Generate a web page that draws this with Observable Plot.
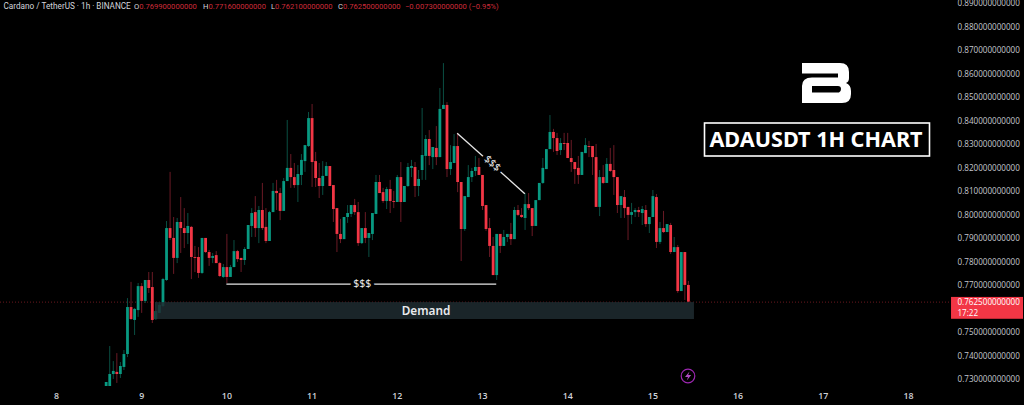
<!DOCTYPE html>
<html>
<head>
<meta charset="utf-8">
<script src="https://cdn.jsdelivr.net/npm/d3@7"></script>
<script src="https://cdn.jsdelivr.net/npm/@observablehq/plot@0.6"></script>
<style>
  html, body { margin: 0; background: #000; overflow: hidden; }
  #wrap { position: relative; width: 1024px; height: 405px; }
  #legend { position: absolute; top: 0; left: 0; width: 1024px; height: 14px; font: 7.6px Roboto, sans-serif; color: #d4d6dc; }
  #legend span { position: absolute; top: 1px; line-height: 11px; white-space: nowrap; }
  #legend b { font-weight: 400; color: #cf2b39; }
</style>
</head>
<body>
<div id="wrap">
  <div id="grafico"></div>
  <div id="legend">
    <span style="left:3.5px;font-size:8.2px">Cardano / TetherUS · 1h · BINANCE</span>
    <span style="left:134px">O<b>0.769900000000</b></span>
    <span style="left:203px">H<b>0.771600000000</b></span>
    <span style="left:271px">L<b>0.762100000000</b></span>
    <span style="left:338px">C<b>0.762500000000</b></span>
    <span style="left:405px"><b>−0.007300000000 (−0.95%)</b></span>
  </div>
</div>
<script>
// velas de 1h, la primera abre el dia 8 a las 14:00
const opens = [.7266,.7266,.7317,.7326,.7317,.7347,.7402,.7602,.7547,.7589,.7691,.7628,.7717,.7687,.7551,.7577,.7606,.7717,.7938,.7896,.7811,.7964,.7938,.7917,.7943,.7815,.7815,.7747,.7896,.7836,.7811,.7823,.7789,.7730,.7772,.7730,.7772,.7840,.7811,.7802,.7849,.7947,.8006,.7938,.8015,.7943,.7883,.8006,.8096,.8087,.8011,.8138,.8194,.8155,.8121,.8164,.8223,.8287,.8406,.8223,.8151,.8117,.8160,.8202,.8121,.8023,.7913,.7891,.7985,.7998,.8036,.8006,.7874,.7938,.7896,.7913,.7998,.8134,.8091,.8053,.8104,.8053,.8049,.8155,.8049,.8117,.8194,.8198,.8117,.8185,.8245,.8317,.8240,.8279,.8240,.8445,.8462,.8189,.8215,.8287,.8134,.7934,.8070,.8155,.8181,.8198,.8164,.8036,.7938,.7862,.7738,.7913,.7862,.7900,.7913,.7891,.8015,.7994,.7981,.8040,.8023,.7947,.8057,.8130,.8189,.8274,.8347,.8321,.8270,.8300,.8300,.8236,.8219,.8194,.8164,.8257,.8287,.8287,.8240,.8028,.8155,.8130,.8211,.8185,.8155,.8036,.8070,.8028,.7994,.8006,.8015,.8002,.8015,.7955,.7985,.8070,.7879,.7938,.7921,.7951,.7836,.7857,.7670,.7836,.7696]
const highs = [.7283,.7436,.7372,.7406,.7368,.7419,.7640,.7709,.7598,.7704,.7704,.7717,.7751,.7751,.7623,.7623,.7726,.7968,.8177,.7985,.7981,.8070,.8023,.8002,.7947,.7862,.7857,.7896,.7896,.7845,.7832,.7840,.7794,.7785,.7913,.7781,.7887,.7845,.7811,.7857,.7951,.8023,.8074,.8032,.8130,.8023,.8011,.8130,.8143,.8109,.8151,.8398,.8253,.8215,.8206,.8253,.8291,.8432,.8466,.8262,.8215,.8223,.8219,.8202,.8121,.8023,.7977,.7985,.8036,.8036,.8062,.8049,.7938,.8006,.7917,.8002,.8164,.8164,.8109,.8113,.8143,.8096,.8164,.8219,.8117,.8215,.8228,.8219,.8185,.8449,.8334,.8355,.8283,.8372,.8534,.8640,.8474,.8291,.8338,.8343,.8134,.8074,.8206,.8194,.8245,.8236,.8164,.8036,.7981,.7900,.7913,.7913,.7930,.7913,.7960,.8028,.8036,.8023,.8087,.8087,.8023,.8057,.8130,.8236,.8274,.8419,.8360,.8343,.8321,.8343,.8343,.8313,.8219,.8245,.8262,.8321,.8309,.8287,.8296,.8185,.8206,.8236,.8279,.8291,.8155,.8074,.8100,.8028,.8045,.8023,.8028,.8032,.8036,.7985,.8100,.8083,.7964,.8011,.7955,.7960,.7900,.7866,.7836,.7836,.7713]
const lows = [.7266,.7266,.7296,.7279,.7300,.7334,.7389,.7547,.7483,.7560,.7577,.7619,.7662,.7534,.7547,.7577,.7602,.7713,.7887,.7743,.7789,.7832,.7853,.7870,.7721,.7751,.7726,.7743,.7832,.7777,.7789,.7789,.7730,.7726,.7704,.7730,.7772,.7794,.7751,.7781,.7849,.7900,.7900,.7874,.7930,.7874,.7883,.8006,.8015,.7972,.8011,.8138,.8109,.8109,.8049,.8121,.8177,.8283,.8113,.8113,.8066,.8079,.8160,.8117,.7964,.7836,.7874,.7891,.7960,.7985,.7994,.7862,.7870,.7874,.7815,.7887,.7998,.8087,.8045,.8019,.8002,.8023,.8049,.7964,.8049,.8113,.8155,.8070,.8074,.8143,.8143,.8206,.8189,.8206,.8240,.8445,.8155,.8164,.8215,.8091,.7798,.7926,.8070,.8134,.8160,.8164,.8015,.7926,.7815,.7738,.7717,.7832,.7862,.7879,.7866,.7891,.7989,.7981,.7930,.8015,.7904,.7947,.8057,.8126,.8189,.8274,.8262,.8249,.8249,.8270,.8236,.8177,.8126,.8126,.8164,.8257,.8240,.8164,.8028,.7989,.8126,.8130,.8177,.8079,.8002,.7981,.7981,.7887,.7955,.7985,.7985,.7951,.7943,.7917,.7985,.7853,.7870,.7917,.7921,.7828,.7836,.7662,.7670,.7632,.7621]
const closes = [.7283,.7317,.7330,.7317,.7351,.7402,.7602,.7551,.7594,.7691,.7628,.7717,.7683,.7547,.7585,.7611,.7721,.7938,.7896,.7811,.7964,.7938,.7917,.7947,.7815,.7811,.7747,.7896,.7836,.7811,.7819,.7789,.7734,.7772,.7730,.7772,.7840,.7806,.7802,.7849,.7951,.8002,.7938,.8015,.7938,.7883,.8006,.8096,.8087,.8011,.8138,.8194,.8155,.8121,.8168,.8228,.8291,.8406,.8219,.8151,.8117,.8160,.8202,.8117,.8019,.7913,.7891,.7985,.8002,.8036,.8006,.7874,.7938,.7896,.7917,.8002,.8134,.8087,.8053,.8104,.8053,.8049,.8155,.8049,.8117,.8198,.8202,.8117,.8147,.8249,.8317,.8245,.8283,.8240,.8445,.8462,.8189,.8219,.8287,.8134,.7934,.8074,.8155,.8181,.8198,.8164,.8032,.7934,.7862,.7738,.7913,.7862,.7900,.7913,.7891,.8015,.7994,.7985,.8040,.8023,.7947,.8057,.8130,.8194,.8274,.8347,.8321,.8266,.8300,.8296,.8236,.8219,.8189,.8164,.8262,.8291,.8283,.8240,.8028,.8155,.8130,.8211,.8181,.8155,.8036,.8074,.8023,.7994,.8006,.8015,.8006,.8019,.7955,.7985,.8074,.7879,.7938,.7921,.7955,.7836,.7857,.7670,.7836,.7696,.7625]

const priceTicks = [.89,.88,.87,.86,.85,.84,.83,.82,.81,.8,.79,.78,.77,.75,.74,.73]
const dayTicks = [8,9,10,11,12,13,14,15,16,17,18]
const lastPrice = .7625
const demandZone = [{ x1: 9.162, x2: 15.488, y1: .7623, y2: .7551 }]
const flatLevel = [{ x1: 10, x2: 13.167, y: .7702 }]
const slopeLevel = [{ x1: 12.703, y1: .8344, x2: 13.497, y2: .8086 }]
const priceBox = [{ x1: 18.505, x2: 19.35, y1: .7552, y2: .7645 }]

const rows = opens.map((o, i) => ({
  day: 8 + (14 + i) / 24,
  open: o,
  high: highs[i],
  low: lows[i],
  close: closes[i],
}))
const up = d => d.close >= d.open

let chart = Plot.plot({
  width: 1024,
  height: 405,
  marginTop: 0,
  marginLeft: 0,
  marginRight: 74,
  marginBottom: 18,
  style: { background: '#000', color: '#c4c7ce', fontFamily: '"Open Sans", sans-serif', fontSize: '8.1px' },
  x: { domain: [7.343, 18.493], axis: null },
  y: { domain: [.72617, .89085], axis: null },
  marks: [
    Plot.ruleY([lastPrice], { stroke: '#f23645', strokeOpacity: 0.55, strokeDasharray: '1,2', strokeWidth: 0.8 }),
    // mechas
    Plot.ruleX(rows, { x: 'day', y1: 'low', y2: 'high', strokeWidth: 1, stroke: d => (up(d) ? '#0a4f43' : '#6a1a25') }),
    // cuerpos
    Plot.ruleX(rows, { x: 'day', y1: 'open', y2: 'close', strokeWidth: 2.8, stroke: d => (up(d) ? '#089981' : '#f23645') }),
    Plot.rect(demandZone, { x1: 'x1', x2: 'x2', y1: 'y1', y2: 'y2', fill: '#1f2c30', fillOpacity: 0.85 }),
    Plot.text(['Demand'], { x: 12.337, y: .7587, text: d => d, fill: '#e8eaed', fontSize: 11.8, fontWeight: 600, fontFamily: '"Noto Sans", sans-serif' }),
    Plot.ruleY(flatLevel, { x1: 'x1', x2: 'x2', y: 'y', stroke: '#e6e6e6', strokeWidth: 1.3 }),
    Plot.text(['$$$'], { x: 11.59, y: .7702, text: d => d, fill: '#e6e6e6', stroke: '#000', strokeWidth: 7, fontSize: 10.5, fontFamily: '"Noto Sans", sans-serif' }),
    Plot.link(slopeLevel, { x1: 'x1', y1: 'y1', x2: 'x2', y2: 'y2', stroke: '#e6e6e6', strokeWidth: 1.3 }),
    Plot.text(['$$$'], { x: 13.115, y: .8215, text: d => d, rotate: 42, fill: '#e6e6e6', stroke: '#000', strokeWidth: 7, fontSize: 10.5, fontFamily: '"Noto Sans", sans-serif' }),
    Plot.axisY(priceTicks, { anchor: 'right', tickSize: 0, tickPadding: 7, dy: 1, label: null, tickFormat: d3.format('.12f') }),
    Plot.axisX(dayTicks, { anchor: 'bottom', tickSize: 0, tickPadding: 5, label: null, tickFormat: d => d, fill: '#d0d3da', fontWeight: 600, fontSize: 8.8 }),
    Plot.rect(priceBox, { x1: 'x1', x2: 'x2', y1: 'y1', y2: 'y2', fill: '#f23645' }),
    Plot.text(['0.762500000000'], { x: 18.575, y: .7625, dy: 0.5, text: d => d, textAnchor: 'start', fill: '#fff' }),
    Plot.text(['17:22'], { x: 18.575, y: .7577, dy: 0.5, text: d => d, textAnchor: 'start', fill: '#fff' }),
  ],
})

// logo y titulo, son adornos fijos
const svg = d3.select(chart)
svg.append('path')
  .attr('fill', '#fff')
  .attr('fill-rule', 'evenodd')
  .attr('d', 'M802,63H840Q849,63 849,72V78Q849,82 846,83Q851,85 851,91V94Q851,103 842,103H802V86Q802,77.5 812,77.5H838V73.5H802ZM812,86V92.5H839Q841,92 841,89Q841,86 838,86Z')
svg.append('rect')
  .attr('x', 704.5).attr('y', 123).attr('width', 225).attr('height', 33)
  .attr('fill', 'none').attr('stroke', '#fff').attr('stroke-width', 1.6)
svg.append('text')
  .attr('x', 816).attr('y', 147)
  .attr('text-anchor', 'middle')
  .attr('fill', '#fff')
  .style('font', '700 21.6px "Noto Sans", sans-serif')
  .text('ADAUSDT 1H CHART')
// icono del rayo
svg.append('circle')
  .attr('cx', 688).attr('cy', 376).attr('r', 6.8)
  .attr('fill', 'none').attr('stroke', '#9c27b0').attr('stroke-width', 1.2)
svg.append('path')
  .attr('fill', '#b04cc4')
  .attr('d', 'M689.5,371.5L685,377H688L686.8,380.5L691.2,375H688.2Z')

d3.select('#grafico').append(() => chart)
</script>
</body>
</html>
